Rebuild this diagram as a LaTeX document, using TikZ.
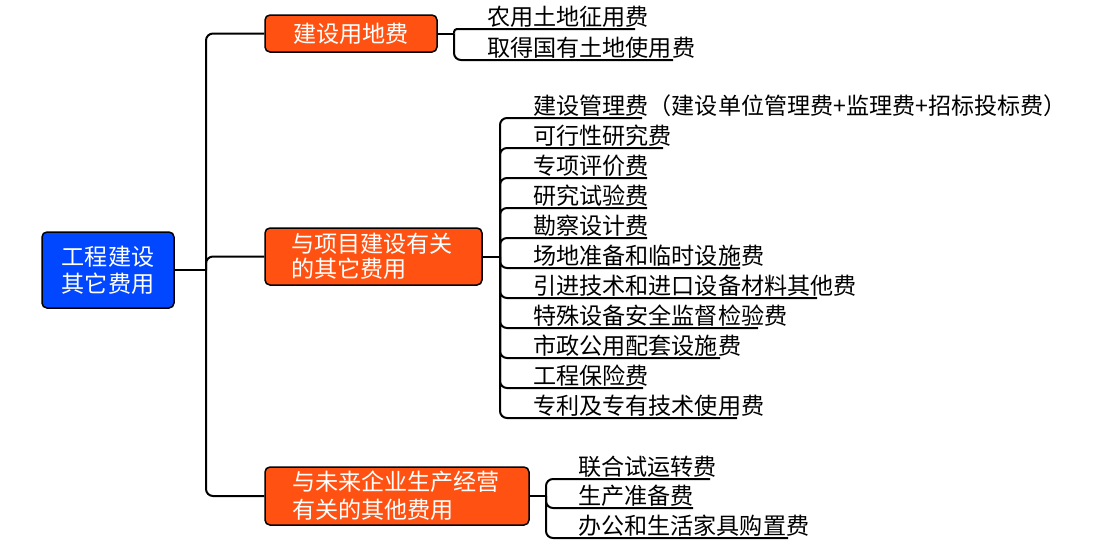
\documentclass[tikz,border=0pt]{standalone}
\usepackage{fontspec}
\setmainfont{Noto Sans CJK SC}
\definecolor{rootblue}{HTML}{0047FF}
\definecolor{branchorange}{HTML}{FF5212}
\begin{document}
\begin{tikzpicture}[x=1pt,y=-1pt,
  boxbase/.style={draw=black, line width=1.5pt, rounded corners=5pt, text=white,
    inner sep=0pt, font=\fontsize{23.1}{27}\selectfont},
  rootbox/.style={boxbase, fill=rootblue, align=center},
  branchbox/.style={boxbase, fill=branchorange},
  leaf/.style={anchor=west, inner sep=0pt, font=\fontsize{23.1}{27}\selectfont},
  conn/.style={line width=2pt, rounded corners=7pt}]
\useasboundingbox (0,0) rectangle (1104,550);

% root and branches
\node[rootbox, minimum width=132pt, minimum height=76pt] (root) at (108,270) {工程建设\\其它费用};
\node[branchbox, align=center, minimum width=172pt, minimum height=37pt] (b1) at (351,33.5) {建设用地费};
\node[branchbox, align=left, text width=165pt, minimum width=217pt, minimum height=57pt,
  font=\fontsize{23.1}{25}\selectfont] (b2) at (373.5,256.5) {与项目建设有关\\的其它费用};
\node[branchbox, align=left, text width=210pt, minimum width=264pt, minimum height=58pt,
  font=\fontsize{23.1}{28}\selectfont] (b3) at (397,496) {与未来企业生产经营\\有关的其他费用};

% main connectors
\coordinate (mj) at (206,270);
\draw[conn] (root.east) -- (mj);
\draw[conn] (mj) |- (b1.west);
\draw[conn] (mj) |- (b2.west);
\draw[conn] (mj) |- (b3.west);

% group 1
\coordinate (j1) at (454,33.5);
\draw[conn] (b1.east) -- (j1);
\node[leaf] (l1-1) at (487,17) {农用土地征用费};
\node[leaf] (l1-2) at (487,48) {取得国有土地使用费};
\coordinate (u1-1) at (635,29);
\coordinate (u1-2) at (673,60);
\draw[conn, rounded corners=3pt] (j1) |- (u1-1);
\draw[conn] (j1) |- (u1-2);

% group 2
\coordinate (j2) at (500,256.5);
\draw[conn] (b2.east) -- (j2);
\foreach \t/\e [count=\i] in {
  建设管理费（建设单位管理费+监理费+招标投标费）/642,
  可行性研究费/663,
  专项评价费/647,
  研究试验费/647,
  勘察设计费/647,
  场地准备和临时设施费/740,
  引进技术和进口设备材料其他费/817,
  特殊设备安全监督检验费/758,
  市政公用配套设施费/720,
  工程保险费/643,
  专利及专有技术使用费/737}{
  \pgfmathsetmacro\uy{118+30*(\i-1)}
  \node[leaf] (l2-\i) at (533,\uy-12) {\t};
  \coordinate (u2-\i) at (\e,\uy);
  \draw[conn] (j2) |- (u2-\i);
}

% group 3
\coordinate (j3) at (546,496);
\draw[conn] (b3.east) -- (j3);
\node[leaf] (l3-1) at (578,467) {联合试运转费};
\node[leaf] (l3-2) at (578,496) {生产准备费};
\node[leaf] (l3-3) at (578,526) {办公和生活家具购置费};
\coordinate (u3-1) at (710,479);
\coordinate (u3-2) at (693,508);
\coordinate (u3-3) at (788,538);
\draw[conn] (j3) |- (u3-1);
\draw[conn] (j3) |- (u3-2);
\draw[conn] (j3) |- (u3-3);
\end{tikzpicture}
\end{document}
